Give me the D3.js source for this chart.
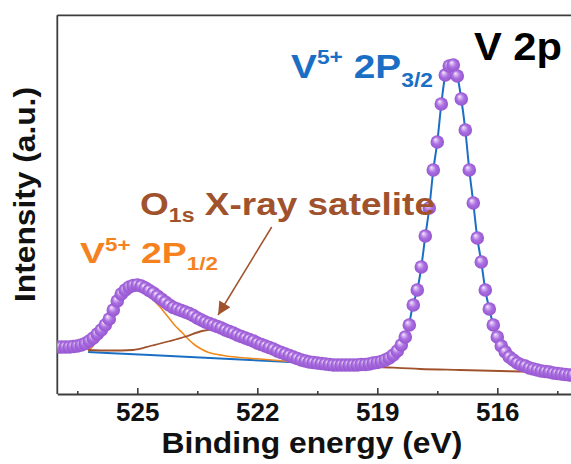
<!DOCTYPE html>
<html>
<head>
<meta charset="utf-8">
<script src="https://cdn.jsdelivr.net/npm/d3@7"></script>
<style>
  html, body { margin: 0; padding: 0; background: #fff; }
  svg { display: block; }
  text { font-family: "Liberation Sans", Arial, sans-serif; font-weight: bold; }
</style>
</head>
<body>
<div id="chart"></div>
<script>
// measured V 2p spectrum, binding energy grid (eV) + intensity (a.u.)
const energyStart = 527.0, energyStep = 0.1;
const intensity = [
  47, 47, 47, 47, 47.5, 48, 49, 50.5, 53, 56,
  60, 64, 69, 75, 84, 93, 100, 104, 107, 108.5,
  109, 108, 106, 103.5, 101, 98, 95, 92, 89, 86.5,
  85, 83.5, 82, 80.5, 78.5, 76, 74, 72, 70.5, 69,
  67.5, 66, 64, 62.5, 61, 59, 57.5, 56, 54.5, 53,
  51, 49.5, 48, 46.5, 45, 43, 41.5, 40, 38.5, 37,
  35.5, 34, 33, 32, 31.5, 31, 30.5, 30, 29.5, 29,
  29, 29, 29, 29, 29, 29, 29.5, 29.5, 30, 31,
  31.5, 32.5, 34, 36, 39, 43, 49, 57, 69, 89,
  104, 127, 158, 186, 224, 252, 290, 319, 328, 329,
  318, 295, 264, 224, 191, 156, 132, 104, 85, 69,
  57, 48, 42, 37, 34, 31, 29, 28, 26, 25,
  24, 23, 22.5, 22, 21, 20.5, 20, 19.5, 19, 19
];
const energies = intensity.map((_, i) => +(energyStart - i * energyStep).toFixed(2));

// fitted components [eV, intensity]
const peak32 = [
  [526.23, 42], [524.68, 39], [523.43, 36.5], [522.18, 34], [521.18, 32], [520.18, 30],
  [519.18, 28.5], [518.81, 30], [518.61, 34], [518.51, 39], [518.41, 47], [518.31, 56],
  [518.21, 69], [518.11, 89], [518.0, 104], [517.9, 127], [517.8, 158], [517.7, 186],
  [517.6, 224], [517.5, 252], [517.4, 290], [517.3, 319], [517.2, 328], [517.1, 329],
  [517.0, 318], [516.9, 295], [516.8, 264], [516.7, 224], [516.6, 191], [516.5, 156],
  [516.4, 132], [516.3, 104], [516.2, 85], [516.1, 69], [516.0, 57], [515.9, 48],
  [515.8, 42], [515.7, 37], [515.6, 33], [515.4, 28], [515.0, 24.5], [514.16, 21.5]
];
const peak12 = [
  [526.23, 43], [526.13, 47], [526.03, 53], [525.91, 62], [525.81, 68], [525.71, 75],
  [525.61, 83], [525.51, 91], [525.41, 97], [525.31, 102], [525.21, 104], [525.11, 105],
  [525.01, 105], [524.91, 104], [524.81, 101.5], [524.68, 97.5], [524.56, 92.5],
  [524.43, 87], [524.31, 81], [524.18, 74.5], [524.06, 68.5], [523.88, 61.5], [523.73, 55],
  [523.56, 49], [523.38, 44.5], [523.23, 41.7], [523.06, 40], [522.88, 38.7],
  [522.63, 37.2], [522.38, 36.3], [521.93, 35], [521.18, 32.5]
];
const satellite = [
  [526.23, 44], [525.68, 43.5], [525.11, 44], [524.63, 48.5], [524.18, 53], [523.78, 57.5],
  [523.38, 63], [523.06, 64.5], [522.73, 64], [522.43, 60], [522.13, 54], [521.81, 47],
  [521.43, 41], [521.06, 36], [520.68, 33], [520.18, 30.5], [519.43, 28], [518.93, 27],
  [517.93, 25], [516.93, 24], [515.93, 23], [515.43, 22.5], [514.16, 21]
];

const majorTicks = [525, 522, 519, 516];
const minorTicks = [526.5, 523.5, 520.5, 517.5, 514.5];
const arrowFrom = [521.64, 167], arrowTo = [522.98, 79];

const width = 571, height = 464;
const plotLeft = 57.3, plotTop = 15.3, plotBottom = 394, plotRight = 617.3;

const svg = d3.select("#chart").append("svg")
  .attr("width", width).attr("height", height);

const x = d3.scaleLinear().domain([527, 513]).range([plotLeft, plotRight]);
const y = d3.scaleLinear().domain([0, 380]).range([plotBottom, plotBottom - 380]);

const defs = svg.append("defs");
defs.append("clipPath").attr("id", "plotClip")
  .append("rect").attr("x", plotLeft).attr("y", plotTop)
  .attr("width", plotRight - plotLeft).attr("height", plotBottom - plotTop);

const grad = defs.append("radialGradient").attr("id", "ball")
  .attr("cx", 0.5).attr("cy", 0.5).attr("r", 0.5).attr("fx", 0.35).attr("fy", 0.3);
grad.append("stop").attr("offset", "0%").attr("stop-color", "#f5ecfc");
grad.append("stop").attr("offset", "25%").attr("stop-color", "#d3aff0");
grad.append("stop").attr("offset", "55%").attr("stop-color", "#aa6fe0");
grad.append("stop").attr("offset", "100%").attr("stop-color", "#9655d1");

defs.append("marker").attr("id", "arrowHead")
  .attr("viewBox", "0 0 10 10").attr("refX", 10).attr("refY", 5)
  .attr("markerWidth", 14).attr("markerHeight", 13)
  .attr("markerUnits", "userSpaceOnUse").attr("orient", "auto")
  .append("path").attr("d", "M0,0L10,5L0,10z").attr("fill", "#a0522d");

// frame (right side runs off the picture)
const frameColor = "#3d3d3d";
svg.append("line").attr("x1", plotLeft).attr("x2", plotRight).attr("y1", plotTop).attr("y2", plotTop)
  .attr("stroke", frameColor).attr("stroke-width", 1.8);
svg.append("line").attr("x1", plotLeft).attr("x2", plotLeft).attr("y1", plotTop).attr("y2", plotBottom)
  .attr("stroke", frameColor).attr("stroke-width", 1.8);

const xAxis = svg.append("g").attr("transform", `translate(0,${plotBottom})`)
  .call(d3.axisBottom(x).tickValues(majorTicks).tickSizeInner(-6).tickSizeOuter(0).tickPadding(9));
xAxis.select(".domain").attr("stroke", frameColor).attr("stroke-width", 1.8);
xAxis.selectAll(".tick line").attr("stroke", frameColor).attr("stroke-width", 1.6);
xAxis.selectAll(".tick text").attr("font-size", 26).attr("fill", "#111")
  .attr("font-family", "'Liberation Sans', Arial, sans-serif").attr("font-weight", "bold");

const xMinor = svg.append("g").attr("transform", `translate(0,${plotBottom})`)
  .call(d3.axisBottom(x).tickValues(minorTicks).tickSizeInner(-3).tickSizeOuter(0).tickFormat(""));
xMinor.select(".domain").remove();
xMinor.selectAll(".tick line").attr("stroke", frameColor).attr("stroke-width", 1.6);

// curves
const plot = svg.append("g").attr("clip-path", "url(#plotClip)");
const line = d3.line().x(d => x(d[0])).y(d => y(d[1])).curve(d3.curveMonotoneX);

plot.append("path").datum(peak32).attr("d", line)
  .attr("fill", "none").attr("stroke", "#1a6fc4").attr("stroke-width", 2);
plot.append("path").datum(peak12).attr("d", line)
  .attr("fill", "none").attr("stroke", "#f08a1c").attr("stroke-width", 1.6);
plot.append("path").datum(satellite).attr("d", line)
  .attr("fill", "none").attr("stroke", "#a0522d").attr("stroke-width", 1.8);

plot.selectAll("circle.pt")
  .data(intensity.map((v, i) => [energies[i], v]))
  .join("circle").attr("class", "pt")
  .attr("cx", d => x(d[0])).attr("cy", d => y(d[1])).attr("r", 6.8)
  .attr("fill", "url(#ball)");

svg.append("line")
  .attr("x1", x(arrowFrom[0])).attr("y1", y(arrowFrom[1]))
  .attr("x2", x(arrowTo[0])).attr("y2", y(arrowTo[1]))
  .attr("stroke", "#a0522d").attr("stroke-width", 1.5)
  .attr("marker-end", "url(#arrowHead)");

// labels: parts = [text, size, baseline offset]
function label(parts, opt) {
  const g = svg.append("g");
  const t = g.append("text").attr("fill", opt.color).attr("font-size", opt.size)
    .attr("text-anchor", opt.anchor || "start");
  parts.forEach(p => t.append("tspan").attr("font-size", p[1]).attr("y", p[2]).text(p[0]));
  const w = t.node().getComputedTextLength();
  const sx = opt.width ? opt.width / w : 1;
  g.attr("transform", `translate(${opt.x},${opt.y}) rotate(${opt.rotate || 0}) scale(${sx},1)`);
  return g;
}

label([["V 2p", 38, 0]], { x: 474, y: 60, size: 38, width: 88, color: "#000" });
label([["V", 34, 0], ["5+", 20, -14], [" 2P", 34, 0], ["3/2", 20, 9]],
  { x: 291, y: 78, size: 34, width: 142, color: "#1a6fc4" });
label([["O", 32, 0], ["1s", 20, 7], [" X-ray satelite", 32, 0]],
  { x: 140, y: 215, size: 32, width: 295, color: "#a0522d" });
label([["V", 30, 0], ["5+", 18, -12], [" 2P", 30, 0], ["1/2", 18, 7]],
  { x: 80, y: 263, size: 30, width: 138, color: "#f5821f" });
label([["Binding energy (eV)", 30, 0]],
  { x: 312, y: 453, size: 30, width: 301, anchor: "middle", color: "#111" });
label([["Intensity (a.u.)", 30, 0]],
  { x: 35, y: 194.5, size: 30, width: 215, anchor: "middle", rotate: -90, color: "#111" });
</script>
</body>
</html>
